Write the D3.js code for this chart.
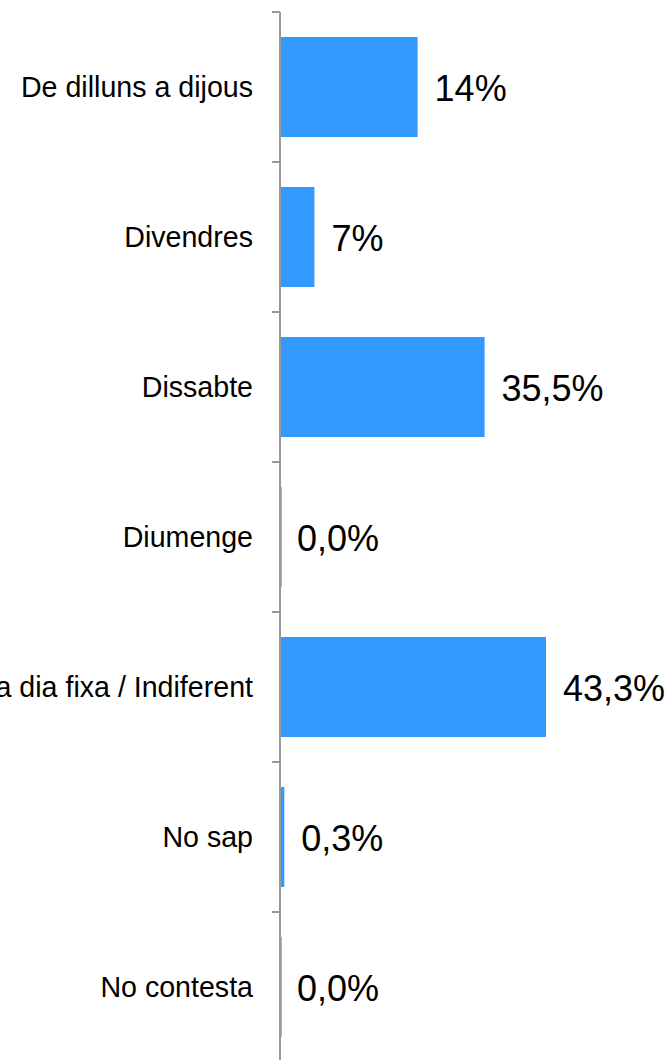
<!DOCTYPE html>
<html>
<head>
<meta charset="utf-8">
<script src="https://cdn.jsdelivr.net/npm/d3@7"></script>
<style>
  html, body { margin: 0; padding: 0; background: #fff; }
  svg { display: block; }
  text { font-family: "Liberation Sans", Arial, Helvetica, sans-serif; fill: #000; }
</style>
</head>
<body>
<svg id="chart" width="670" height="1060"></svg>
<script>
const categories = ["De dilluns a dijous", "Divendres", "Dissabte", "Diumenge", "No hi ha dia fixa / Indiferent", "No sap", "No contesta"];
const values = [22.4, 5.6, 33.3, 0, 43.3, 0.7, 0];
const valueLabels = ["14%", "7%", "35,5%", "0,0%", "43,3%", "0,3%", "0,0%"];

const svg = d3.select("#chart");
const x0 = 280;

const y = d3.scaleBand()
  .domain(categories)
  .range([12, 1062])
  .paddingInner(1/3)
  .paddingOuter(1/6);

const x = d3.scaleLinear()
  .domain([0, 50])
  .range([x0, x0 + 307.15]);

const data = categories.map((c, i) => ({ c, v: values[i], l: valueLabels[i] }));

// bars
svg.append("g").selectAll("rect")
  .data(data.filter(d => d.v > 0))
  .join("rect")
  .attr("x", x(0))
  .attr("y", d => y(d.c))
  .attr("width", d => x(d.v) - x(0))
  .attr("height", y.bandwidth())
  .attr("fill", "#3399ff");

// zero-width bars (border only)
svg.append("g").selectAll("line")
  .data(data.filter(d => d.v === 0))
  .join("line")
  .attr("x1", x(0) + 1.5)
  .attr("x2", x(0) + 1.5)
  .attr("y1", d => y(d.c))
  .attr("y2", d => y(d.c) + y.bandwidth())
  .attr("stroke", "#8fb8e8")
  .attr("stroke-width", 1);

// axis line and ticks at band boundaries
const axisG = svg.append("g");
axisG.append("line")
  .attr("x1", x0).attr("x2", x0)
  .attr("y1", y.range()[0]).attr("y2", y.range()[1])
  .attr("stroke", "#999999").attr("stroke-width", 2);

const boundaries = categories.map(c => y(c) - y.step() * y.paddingInner() / 2 - (y.step() - y.bandwidth() - y.step() * y.paddingInner()) / 2);
axisG.selectAll("line.tick")
  .data(categories.map((c, i) => y.range()[0] + i * y.step()))
  .join("line")
  .attr("class", "tick")
  .attr("x1", x0 - 8).attr("x2", x0)
  .attr("y1", d => d).attr("y2", d => d)
  .attr("stroke", "#999999").attr("stroke-width", 2);

// category labels
svg.append("g").selectAll("text")
  .data(data)
  .join("text")
  .attr("x", 253)
  .attr("y", d => y(d.c) + y.bandwidth() / 2)
  .attr("dy", "0.35em")
  .attr("text-anchor", "end")
  .style("font-size", "28.6px")
  .text(d => d.c);

// value labels
svg.append("g").selectAll("text")
  .data(data)
  .join("text")
  .attr("x", d => x(d.v) + 17)
  .attr("y", d => y(d.c) + y.bandwidth() / 2)
  .attr("dy", "0.39em")
  .style("font-size", "36px")
  .text(d => d.l);
</script>
</body>
</html>
